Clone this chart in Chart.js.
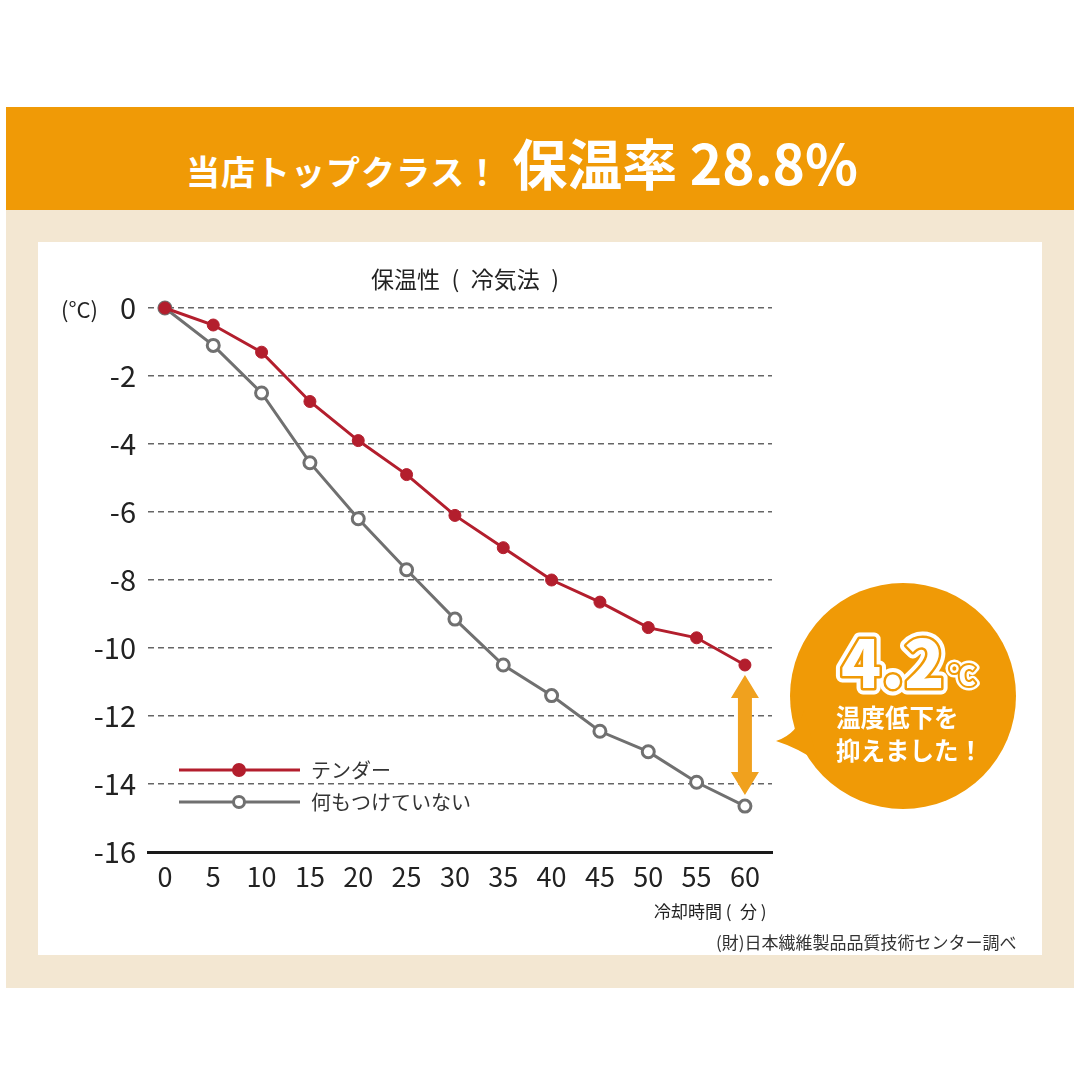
<!DOCTYPE html>
<html lang="ja">
<head>
<meta charset="utf-8">
<script src="https://cdn.jsdelivr.net/npm/chart.js@4.4.1/dist/chart.umd.min.js"></script>
<style>
  html, body { margin: 0; padding: 0; }
  body { width: 1080px; height: 1080px; position: relative; background: #fff; overflow: hidden;
         font-family: "Noto Sans CJK JP", "Noto Sans", sans-serif; color: #222; }
  .band { position: absolute; left: 6px; top: 107px; width: 1068px; height: 103px; background: #F09A06; }
  .band .t { position: absolute; left: 180px; top: 14px; white-space: nowrap; color: #fff; font-weight: 700; }
  .band .s { font-size: 34px; letter-spacing: 1px; }
  .band .b { font-size: 55px; margin-left: 12px; }
  .beige { position: absolute; left: 6px; top: 210px; width: 1068px; height: 778px; background: #F3E7D2; }
  .panel { position: absolute; left: 38px; top: 242px; width: 1004px; height: 713px; background: #fff; }
  .txt { position: absolute; white-space: nowrap; color: #222; }
</style>
</head>
<body>
<div class="band"><div class="t"><span class="s">当店トップクラス！</span><span class="b">保温率 28.8%</span></div></div>
<div class="beige"></div>
<div class="panel"><canvas id="myChart" width="1004" height="713"></canvas></div>
<div class="txt" style="left:371px; top:261px; font-size:23px;">保温性&ensp;(&ensp;冷気法&ensp;)</div>
<div class="txt" style="left:61px; top:292px; font-size:22px;">(°C)</div>
<div class="txt" style="left:654px; top:898px; font-size:17px;">冷却時間 (&ensp;分 )</div>
<div class="txt" style="left:716px; top:929px; font-size:17px; color:#333;">(財)日本繊維製品品質技術センター調べ</div>
<script>
const minutes = [0, 5, 10, 15, 20, 25, 30, 35, 40, 45, 50, 55, 60];
const tenderTemps = [0, -0.5, -1.3, -2.75, -3.9, -4.9, -6.1, -7.05, -8.0, -8.65, -9.4, -9.7, -10.5];
const noCoverTemps = [0, -1.1, -2.5, -4.55, -6.2, -7.7, -9.15, -10.5, -11.4, -12.45, -13.05, -13.95, -14.65];
const yTicks = [0, -2, -4, -6, -8, -10, -12, -14, -16];
const seriesNames = ['テンダー', '何もつけていない'];

const red = '#B31E2D';
const gray = '#707070';
const orange = '#F09A06';
const font = '"Noto Sans CJK JP", "Noto Sans", sans-serif';

// arrow, speech bubble and legend drawn on top of the lines
const annotate = {
  id: 'annotate',
  afterDatasetsDraw(chart) {
    const { ctx, scales: { x, y } } = chart;
    const last = minutes.length - 1;
    const ax = x.getPixelForValue(minutes[last]);
    const top = y.getPixelForValue(tenderTemps[last]) + 10;
    const bot = y.getPixelForValue(noCoverTemps[last]) - 11;
    ctx.save();
    ctx.fillStyle = '#F0A11E';
    ctx.beginPath();
    ctx.moveTo(ax, top);
    ctx.lineTo(ax + 14, top + 23);
    ctx.lineTo(ax + 7, top + 23);
    ctx.lineTo(ax + 7, bot - 23);
    ctx.lineTo(ax + 14, bot - 23);
    ctx.lineTo(ax, bot);
    ctx.lineTo(ax - 14, bot - 23);
    ctx.lineTo(ax - 7, bot - 23);
    ctx.lineTo(ax - 7, top + 23);
    ctx.lineTo(ax - 14, top + 23);
    ctx.closePath();
    ctx.fill();

    // bubble
    const cx = 865, cy = 454, r = 113;
    ctx.fillStyle = orange;
    ctx.beginPath();
    ctx.arc(cx, cy, r, 0, Math.PI * 2);
    ctx.fill();
    ctx.beginPath();
    ctx.moveTo(766, 468);
    ctx.quadraticCurveTo(760, 492, 738, 499);
    ctx.quadraticCurveTo(760, 506, 780, 520);
    ctx.closePath();
    ctx.fill();

    ctx.textBaseline = 'alphabetic';
    ctx.textAlign = 'left';
    ctx.lineJoin = 'round';
    ctx.font = '900 66px ' + font;
    const big = '4.2';
    ctx.lineWidth = 13; ctx.strokeStyle = '#fff'; ctx.strokeText(big, 803, 446);
    ctx.lineWidth = 5; ctx.strokeStyle = orange; ctx.strokeText(big, 803, 446);
    ctx.fillStyle = '#fff'; ctx.fillText(big, 803, 446);
    const bw = ctx.measureText(big).width;
    ctx.font = '900 26px ' + font;
    ctx.lineWidth = 9; ctx.strokeStyle = '#fff'; ctx.strokeText('℃', 808 + bw, 443);
    ctx.lineWidth = 4; ctx.strokeStyle = orange; ctx.strokeText('℃', 808 + bw, 443);
    ctx.fillStyle = '#fff'; ctx.fillText('℃', 808 + bw, 443);

    ctx.font = '700 24.5px ' + font;
    ctx.fillText('温度低下を', 798, 485);
    ctx.fillText('抑えました！', 798, 518);

    // legend
    const items = [
      { y: 528, color: red, fill: red },
      { y: 560, color: gray, fill: '#fff' }
    ];
    items.forEach((it, i) => {
      ctx.strokeStyle = it.color;
      ctx.lineWidth = 3;
      ctx.beginPath();
      ctx.moveTo(141, it.y);
      ctx.lineTo(262, it.y);
      ctx.stroke();
      ctx.beginPath();
      ctx.arc(201, it.y, 5.5, 0, Math.PI * 2);
      ctx.fillStyle = it.fill;
      ctx.fill();
      ctx.lineWidth = 3;
      ctx.stroke();
      ctx.fillStyle = '#333';
      ctx.font = '20px ' + font;
      ctx.textBaseline = 'middle';
      ctx.fillText(seriesNames[i], 273, it.y);
    });
    ctx.restore();
  }
};

const ctx = document.getElementById('myChart');

new Chart(ctx, {
  type: 'line',
  data: {
    datasets: [{
      label: seriesNames[0],
      data: minutes.map((m, i) => ({ x: m, y: tenderTemps[i] })),
      borderColor: red,
      backgroundColor: red,
      pointBackgroundColor: red,
      pointBorderColor: red,
      pointRadius: 6,
      pointBorderWidth: 1,
      borderWidth: 3,
      clip: false
    }, {
      label: seriesNames[1],
      data: minutes.map((m, i) => ({ x: m, y: noCoverTemps[i] })),
      borderColor: gray,
      backgroundColor: gray,
      pointBackgroundColor: '#fff',
      pointBorderColor: gray,
      pointRadius: 6,
      pointBorderWidth: 3,
      borderWidth: 3,
      clip: false
    }]
  },
  options: {
    responsive: false,
    animation: false,
    devicePixelRatio: 1,
    layout: { padding: { top: 66, right: 270, left: 0, bottom: 0 } },
    plugins: { legend: { display: false }, tooltip: { enabled: false } },
    scales: {
      x: {
        type: 'linear',
        min: -1.75,
        max: 62.8,
        afterBuildTicks: s => { s.ticks = minutes.map(v => ({ value: v })); },
        afterFit: s => { s.height = 103; },
        grid: { display: false, drawTicks: false },
        border: { display: true, color: '#1a1a1a', width: 3 },
        ticks: { color: '#222', padding: 9, font: { family: font, size: 27 }, maxRotation: 0, autoSkip: false }
      },
      y: {
        min: -16,
        max: 0,
        afterBuildTicks: s => { s.ticks = yTicks.map(v => ({ value: v })); },
        afterFit: s => { s.width = 110; },
        grid: {
          drawTicks: false,
          color: c => c.tick && c.tick.value === -16 ? 'rgba(0,0,0,0)' : '#666',
          lineWidth: 1.5,
          tickBorderDash: [6, 4]
        },
        border: { display: false, dash: [6, 4] },
        ticks: { color: '#222', padding: 12, font: { family: font, size: 29 } }
      }
    }
  },
  plugins: [annotate]
});
</script>
</body>
</html>
